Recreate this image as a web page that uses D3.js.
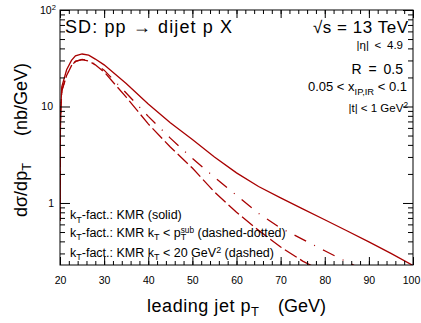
<!DOCTYPE html>
<html>
<head>
<meta charset="utf-8">
<script src="https://cdn.jsdelivr.net/npm/d3@7"></script>
<style>
  body { margin: 0; background: #fff; }
  text { font-family: "Liberation Sans", Arial, sans-serif; fill: #000; }
</style>
</head>
<body>
<svg id="chart"></svg>
<script>
const totalWidth = 421;
const totalHeight = 323;

// leading jet pT grid (GeV) shared by the three curves
const ptGrid = [20, 20.1, 20.4, 21.5, 22.6, 23.5, 25, 26.5, 28, 30, 35, 40, 45, 50, 55, 60, 65, 70, 75, 80, 85, 90, 95, 100];
// dsigma/dpT (nb/GeV)
const kmrSolid   = [0.65, 8, 16, 24, 30, 33.5, 35, 34, 31, 27, 17.3, 10.6, 6.8, 4.55, 3.0, 2.05, 1.48, 1.13, 0.87, 0.67, 0.515, 0.395, 0.3, 0.225];
const kmrPtSub   = [0.65, 7, 14.5, 21, 26.5, 29.3, 30.8, 30, 27.5, 23.8, 13.8, 7.9, 4.7, 2.9, 1.85, 1.2, 0.78, 0.55, 0.42, 0.32, 0.245, 0.19, 0.15, 0.12];
const kmrKt20    = [0.65, 7, 14.5, 21, 26.5, 29.3, 30.6, 29.6, 27, 22.8, 12.5, 6.6, 3.8, 2.3, 1.3, 0.8, 0.52, 0.35, 0.25, 0.19, 0.14, 0.105, 0.08, 0.06];

const xMajor = [20, 30, 40, 50, 60, 70, 80, 90, 100];
const yMajor = [1, 10, 100];

const padLeft = 60, padRight = 413, padTop = 10, padBottom = 265;
const lineColor = "#a80000";

const svg = d3.select('#chart')
    .attr('width', totalWidth)
    .attr('height', totalHeight);

const x = d3.scaleLinear().domain([20, 100]).range([padLeft, padRight]);
const y = d3.scaleLog().domain([0.2276, 100]).range([padBottom, padTop]);

// rich text helper: parts like {t, s: "sub"|"sup", dx, up}
function rich(sel, parts, width) {
    let shift = 0;
    parts.forEach(p => {
        const dy = p.s === "sub" ? 3.5 : p.s === "sup" ? -(p.up || 4.5) : 0;
        sel.append("tspan")
            .attr("dy", dy - shift)
            .attr("dx", p.dx || 0)
            .attr("font-size", p.s ? (p.size || "0.72em") : null)
            .text(p.t);
        shift = dy;
    });
    if (width) sel.attr("textLength", width).attr("lengthAdjust", "spacing");
    return sel;
}

// curves
svg.append("clipPath").attr("id", "clip")
    .append("rect").attr("x", padLeft).attr("y", padTop).attr("width", padRight - padLeft).attr("height", padBottom - padTop);

const line = d3.line()
    .x((d, i) => x(ptGrid[i]))
    .y(d => y(d));

const series = [
    { values: kmrSolid, dash: null },
    { values: kmrPtSub, dash: "13,9,1,9" },
    { values: kmrKt20, dash: "14,4" }
];
svg.append("g").attr("clip-path", "url(#clip)")
    .selectAll("path")
    .data(series)
    .enter()
    .append("path")
    .attr("d", s => line(s.values))
    .style("fill", "none")
    .style("stroke", lineColor)
    .style("stroke-width", 1.3)
    .style("stroke-dasharray", s => s.dash);

// axes (ticks inside, on all four sides)
function noDomain(g) { g.select(".domain").remove(); }
const xMinor = d3.range(20, 101, 2);
const yMinor = [0.3, 0.4, 0.5, 0.6, 0.7, 0.8, 0.9, 2, 3, 4, 5, 6, 7, 8, 9, 20, 30, 40, 50, 60, 70, 80, 90];

svg.append("g").attr("transform", `translate(0,${padBottom})`)
    .call(d3.axisBottom(x).tickValues(xMajor).tickSize(-8).tickPadding(12))
    .call(noDomain)
    .call(g => g.selectAll("text").attr("font-size", 10.5).attr("font-family", "Liberation Sans")
        .attr("dx", d => d === 100 ? -2 : 0));
svg.append("g").attr("transform", `translate(0,${padBottom})`)
    .call(d3.axisBottom(x).tickValues(xMinor).tickSize(-4).tickFormat(""))
    .call(noDomain);
svg.append("g").attr("transform", `translate(0,${padTop})`)
    .call(d3.axisTop(x).tickValues(xMajor).tickSize(-8).tickFormat(""))
    .call(noDomain);
svg.append("g").attr("transform", `translate(0,${padTop})`)
    .call(d3.axisTop(x).tickValues(xMinor).tickSize(-4).tickFormat(""))
    .call(noDomain);

svg.append("g").attr("transform", `translate(${padLeft},0)`)
    .call(d3.axisLeft(y).tickValues(yMajor).tickSize(-10).tickFormat(""))
    .call(noDomain);
svg.append("g").attr("transform", `translate(${padLeft},0)`)
    .call(d3.axisLeft(y).tickValues(yMinor).tickSize(-5).tickFormat(""))
    .call(noDomain);
svg.append("g").attr("transform", `translate(${padRight},0)`)
    .call(d3.axisRight(y).tickValues(yMajor).tickSize(-10).tickFormat(""))
    .call(noDomain);
svg.append("g").attr("transform", `translate(${padRight},0)`)
    .call(d3.axisRight(y).tickValues(yMinor).tickSize(-5).tickFormat(""))
    .call(noDomain);

svg.selectAll(".tick line").attr("stroke", "#000");

// y tick labels
const yLab = svg.append("g").attr("font-size", 10.5);
yLab.append("text").attr("x", 54).attr("y", y(1) + 4).attr("text-anchor", "end").text("1");
yLab.append("text").attr("x", 53).attr("y", y(10) + 4).attr("text-anchor", "end").text("10");
rich(yLab.append("text").attr("x", 40).attr("y", y(100) + 4), [{ t: "10" }, { t: "2", s: "sup" }]);

// frame
svg.append("rect")
    .attr("x", padLeft).attr("y", padTop)
    .attr("width", padRight - padLeft).attr("height", padBottom - padTop)
    .style("fill", "none").style("stroke", "#000").style("stroke-width", 1);

// axis titles
rich(svg.append("text").attr("x", 147).attr("y", 312).attr("font-size", 18),
    [{ t: "leading jet p" }, { t: "T", s: "sub" }], 112);
svg.append("text").attr("x", 326).attr("y", 312).attr("font-size", 18).attr("text-anchor", "end").text("(GeV)");

rich(svg.append("text").attr("transform", "translate(27,217) rotate(-90)").attr("font-size", 18),
    [{ t: "d\u03c3/dp" }, { t: "T", s: "sub" }]);
svg.append("text").attr("transform", "translate(27,63) rotate(-90)").attr("font-size", 18)
    .attr("text-anchor", "end").text("(nb/GeV)");

// header
rich(svg.append("text").attr("x", 65).attr("y", 33).attr("font-size", 18),
    [{ t: "SD: pp \u2192 dijet p X" }], 167);
rich(svg.append("text").attr("x", 313).attr("y", 33).attr("font-size", 17),
    [{ t: "\u221as = 13 TeV" }], 95);

const info = svg.append("g").attr("text-anchor", "end");
info.append("text").attr("x", 403).attr("y", 49).attr("font-size", 11.5)
    .attr("word-spacing", 2.5).text("|\u03b7| < 4.9");
info.append("text").attr("x", 403).attr("y", 74).attr("font-size", 14)
    .attr("word-spacing", 3).text("R = 0.5");
rich(info.append("text").attr("x", 407).attr("y", 91).attr("font-size", 13),
    [{ t: "0.05 < x" }, { t: "IP,IR", s: "sub" }, { t: " < 0.1" }]);
rich(info.append("text").attr("x", 408).attr("y", 112).attr("font-size", 11.5),
    [{ t: "|t| < 1 GeV" }, { t: "2", s: "sup" }]);

// legend
const legend = svg.append("g").attr("font-size", 12.5);
rich(legend.append("text").attr("x", 70).attr("y", 219),
    [{ t: "k" }, { t: "T", s: "sub" }, { t: "-fact.: KMR (solid)" }]);
rich(legend.append("text").attr("x", 70).attr("y", 236.5),
    [{ t: "k" }, { t: "T", s: "sub" }, { t: "-fact.: KMR k" }, { t: "T", s: "sub" }, { t: " < p" },
     { t: "T", s: "sub" }, { t: "sub", s: "sup", dx: -5.5, up: 3.5, size: "0.66em" }, { t: " (dashed-dotted)" }]);
rich(legend.append("text").attr("x", 70).attr("y", 256.5),
    [{ t: "k" }, { t: "T", s: "sub" }, { t: "-fact.: KMR k" }, { t: "T", s: "sub" }, { t: " < 20 GeV" },
     { t: "2", s: "sup", up: 4 }, { t: " (dashed)" }]);
</script>
</body>
</html>
